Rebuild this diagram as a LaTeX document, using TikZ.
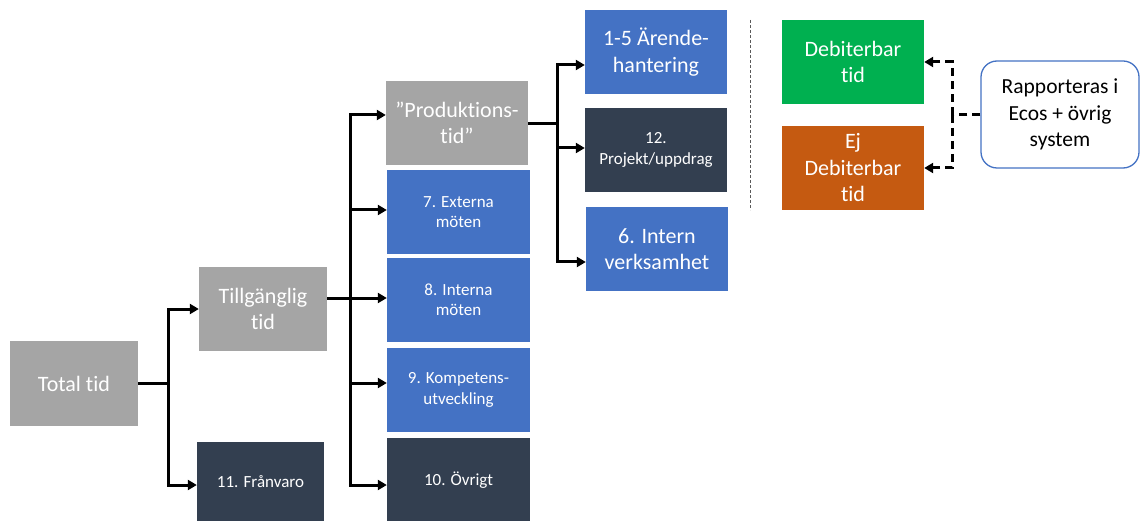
\documentclass[tikz,border=0pt]{standalone}
\usepackage{fontspec}
\setmainfont{Carlito}[Ligatures=NoCommon]
\usetikzlibrary{arrows.meta,calc}
\definecolor{cgray}{HTML}{A5A5A5}
\definecolor{cdark}{HTML}{333F50}
\definecolor{cblue}{HTML}{4472C4}
\definecolor{cgreen}{HTML}{00B050}
\definecolor{corange}{HTML}{C55A11}
\begin{document}
\begin{tikzpicture}[x=1pt,y=-1pt,
  box/.style={draw=none,text=white,align=center,inner sep=0pt,
    font=\fontsize{22}{26.5}\selectfont},
  smallbox/.style={box,font=\fontsize{17}{20.5}\selectfont},
  wire/.style={line width=3pt,black},
  arr/.style={wire,-{Triangle[length=9pt,width=10pt]}},
  darr/.style={line width=3pt,black,dash pattern=on 8pt off 5pt,-{Triangle[length=9pt,width=10pt]}},
  dwire/.style={line width=3pt,black,dash pattern=on 8pt off 5pt}]
\useasboundingbox (0,0) rectangle (1140,521);
\fill[white] (0,0) rectangle (1140,521);
% boxes
\node[box,fill=cgray,minimum width=128pt,minimum height=85pt] (tot) at (74,383.5) {Total tid};
\node[box,fill=cgray,minimum width=128pt,minimum height=84pt] (till) at (263,309) {Tillgänglig\\tid};
\node[smallbox,fill=cdark,minimum width=127pt,minimum height=80pt] (fran) at (260.5,482) {11. Frånvaro};
\node[box,fill=cgray,minimum width=142pt,minimum height=84pt] (prod) at (457,123) {”Produktions-\\tid”};
\node[smallbox,fill=cblue,minimum width=143pt,minimum height=84pt] (ext) at (458.5,212) {7. Externa\\möten};
\node[smallbox,fill=cblue,minimum width=143pt,minimum height=84pt] (int) at (458.5,300) {8. Interna\\möten};
\node[smallbox,fill=cblue,minimum width=143pt,minimum height=84pt] (komp) at (458.5,390) {9. Kompetens-\\utveckling};
\node[smallbox,fill=cdark,minimum width=143pt,minimum height=84pt] (ovr) at (458.5,480) {10. Övrigt};
\node[box,fill=cblue,minimum width=142pt,minimum height=84pt] (aren) at (656,52) {1-5 Ärende-\\hantering};
\node[smallbox,fill=cdark,minimum width=142pt,minimum height=84pt] (proj) at (656,150) {12.\\Projekt/uppdrag};
\node[box,fill=cblue,minimum width=142pt,minimum height=84pt] (intern) at (657,249) {6. Intern\\verksamhet};
\node[box,fill=cgreen,minimum width=142pt,minimum height=84pt] (deb) at (853,62) {Debiterbar\\tid};
\node[box,fill=corange,minimum width=142pt,minimum height=84pt] (ej) at (853,168) {Ej\\Debiterbar\\tid};
\node[draw=cblue,line width=1.3pt,rounded corners=16pt,fill=white,text=black,align=center,
  font=\fontsize{21.5}{26.5}\selectfont,minimum width=158pt,minimum height=107pt] (rapp) at (1060,114.5)
  {Rapporteras i\\Ecos + övrig\\system};
% separator
\coordinate (s1) at (750,20);
\coordinate (s2) at (750,210);
\draw[gray!70!black,line width=0.9pt,dash pattern=on 3pt off 2pt] (s1) -- (s2);
% connectors level 1
\coordinate (j1) at (168,383);
\draw[wire] (tot.east |- j1) -- (j1);
\draw[arr] (j1) |- (till.west);
\draw[arr] (j1) |- ([yshift=-3pt]fran.west);
% level 2
\coordinate (j2) at (350,298);
\draw[wire] (till.east |- j2) -- (j2);
\draw[arr] (j2) |- ([yshift=8pt]prod.west);
\draw[arr] (j2) |- ([yshift=2pt]ext.west);
\draw[arr] (j2) |- ([yshift=2pt]int.west);
\draw[arr] (j2) |- ([yshift=7pt]komp.west);
\draw[arr] (j2) |- ([yshift=-5pt]ovr.west);
% level 3
\coordinate (j3) at (557,124);
\draw[wire] (prod.east |- j3) -- (j3);
\draw[arr] (j3) |- ([yshift=-13pt]aren.west);
\draw[arr] (j3) |- ([yshift=2pt]proj.west);
\draw[arr] (j3) |- ([yshift=-13pt]intern.west);
% dashed
\coordinate (j4) at (952,115);
\draw[dwire] (rapp.west |- j4) -- (j4);
\draw[darr] (j4) |- (deb.east);
\draw[darr] (j4) |- (ej.east);
\end{tikzpicture}
\end{document}
